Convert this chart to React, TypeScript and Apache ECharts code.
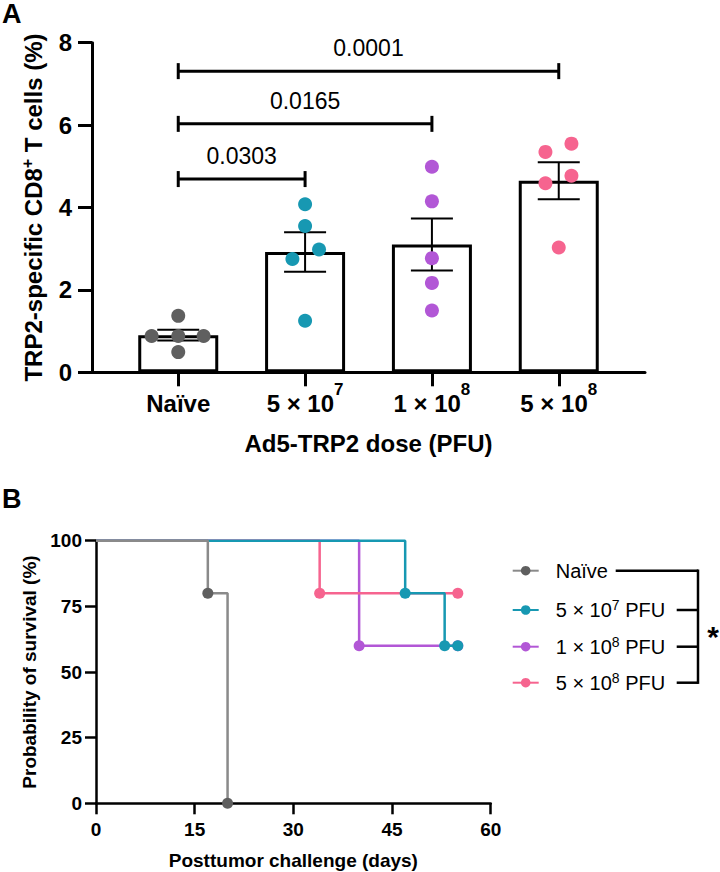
import React, { useEffect, useRef } from 'react';
import * as echarts from 'echarts';

const FONT = '"Liberation Sans", Arial, Helvetica, sans-serif';

// ---------- Panel A data ----------
const groupPositions = [0, 1, 2, 3];
const groupLabels = ['Naïve', '5 × 10{sup|7}', '1 × 10{sup|8}', '5 × 10{sup|8}'];
const meanValues = [0.9, 2.92, 3.1, 4.65];
const semValues = [0.13, 0.48, 0.63, 0.45];
const naiveValues = [1.37, 0.88, 0.88, 0.88, 0.49];
const dose5e7Values = [4.08, 3.55, 2.98, 2.75, 1.25];
const dose1e8Values = [4.99, 4.15, 2.77, 2.17, 1.5];
const dose5e8Values = [5.35, 5.55, 4.77, 4.59, 3.03];
const naiveJitter = [0, -0.21, 0, 0.2, 0];
const dose5e7Jitter = [0, 0, 0.11, -0.1, 0];
const dose1e8Jitter = [0, 0, 0, 0, 0];
const dose5e8Jitter = [-0.105, 0.1, 0.1, -0.105, 0];
const pComparisons = [[0, 1], [0, 2], [0, 3]];
const pValues = ['0.0303', '0.0165', '0.0001'];
const pBracketHeights = [4.69, 6.03, 7.31];

// ---------- Panel B data ----------
const survivalNames = ['Naïve', '5 × 10^7 PFU', '1 × 10^8 PFU', '5 × 10^8 PFU'];
const survivalLegendLabels = ['Naïve', '5 × 10{sup|7} PFU', '1 × 10{sup|8} PFU', '5 × 10{sup|8} PFU'];
const naiveSurvival = [[0, 100], [17, 80], [20, 0]];
const dose5e7Survival = [[0, 100], [47, 80], [53, 60], [55, 60]];
const dose1e8Survival = [[0, 100], [40, 60], [55, 60]];
const dose5e8Survival = [[0, 100], [34, 80], [55, 80]];

const GRAY_PT = '#5f5f5f';
const GRAY_LINE = '#8a8a8a';
const TEAL = '#1798b2';
const PURPLE = '#b257d6';
const PINK = '#f6648f';

const groupValues = [naiveValues, dose5e7Values, dose1e8Values, dose5e8Values];
const groupJitter = [naiveJitter, dose5e7Jitter, dose1e8Jitter, dose5e8Jitter];
const groupColors = [GRAY_PT, TEAL, PURPLE, PINK];

function scatterData(g: number) {
  return groupValues[g].map((v, i) => [groupPositions[g] + groupJitter[g][i], v]);
}

function survivalData(pts: number[][]) {
  return pts.map((p, i) => (i === 0 ? { value: p, symbol: 'none' } : { value: p }));
}

export default function App() {
  const ref = useRef<HTMLDivElement>(null);
  useEffect(() => {
    if (!ref.current) return;
    const chart = echarts.init(ref.current, null, { renderer: 'svg' });
    const boldText = { fontFamily: FONT, fontWeight: 'bold' as const, color: '#000' };

    const survivalSeriesDefs = [
      { name: survivalNames[2], data: dose1e8Survival, line: PURPLE, pt: PURPLE },
      { name: survivalNames[3], data: dose5e8Survival, line: PINK, pt: PINK },
      { name: survivalNames[1], data: dose5e7Survival, line: TEAL, pt: TEAL },
      { name: survivalNames[0], data: naiveSurvival, line: GRAY_LINE, pt: GRAY_PT },
    ];

    const legendCenters = [570.7, 610, 646.7, 682.7];

    const option: any = {
      animation: false,
      backgroundColor: '#fff',
      textStyle: { fontFamily: FONT },
      grid: [
        { left: 92, right: 75, top: 42.7, bottom: 499.7 },
        { left: 96, right: 229.3, top: 540.7, bottom: 68.7 },
      ],
      xAxis: [
        {
          type: 'value', gridIndex: 0, min: -0.68, max: 3.68,
          axisLine: { onZero: false, lineStyle: { color: '#000', width: 3 } },
          axisTick: { show: true, customValues: groupPositions, length: 14, lineStyle: { color: '#000', width: 3 } },
          axisLabel: {
            customValues: groupPositions,
            formatter: (v: number) => groupLabels[Math.round(v)] ?? '',
            ...boldText, fontSize: 24, lineHeight: 44, margin: 9,
            rich: { sup: { ...boldText, fontSize: 17, lineHeight: 16, verticalAlign: 'top' } },
          },
          splitLine: { show: false },
          name: 'Ad5-TRP2 dose (PFU)', nameLocation: 'middle', nameGap: 58.7,
          nameTextStyle: { ...boldText, fontSize: 24 },
        },
        {
          type: 'value', gridIndex: 1, min: 0, max: 60, interval: 15,
          axisLine: { onZero: false, lineStyle: { color: '#000', width: 2.5 } },
          axisTick: { length: 11, lineStyle: { color: '#000', width: 2.5 } },
          axisLabel: { ...boldText, fontSize: 19, margin: 17 },
          splitLine: { show: false },
          name: 'Posttumor challenge (days)', nameLocation: 'middle', nameGap: 48,
          nameTextStyle: { ...boldText, fontSize: 19 },
        },
      ],
      yAxis: [
        {
          type: 'value', gridIndex: 0, min: 0, max: 8, interval: 2,
          axisLine: { show: true, onZero: false, lineStyle: { color: '#000', width: 3 } },
          axisTick: { show: true, length: 14, lineStyle: { color: '#000', width: 3 } },
          axisLabel: { ...boldText, fontSize: 24, margin: 20 },
          splitLine: { show: false },
          name: 'TRP2-specific CD8{sup|+} T cells (%)', nameLocation: 'middle', nameGap: 38,
          nameTextStyle: {
            ...boldText, fontSize: 24, lineHeight: 28,
            rich: { sup: { ...boldText, fontSize: 16, lineHeight: 16, verticalAlign: 'top' } },
          },
        },
        {
          type: 'value', gridIndex: 1, min: 0, max: 100, interval: 25,
          axisLine: { show: true, onZero: false, lineStyle: { color: '#000', width: 2.5 } },
          axisTick: { show: true, length: 11, lineStyle: { color: '#000', width: 2.5 } },
          axisLabel: { ...boldText, fontSize: 19, margin: 14 },
          splitLine: { show: false },
          name: 'Probability of survival (%)', nameLocation: 'middle', nameGap: 54.5,
          nameTextStyle: { ...boldText, fontSize: 19 },
        },
      ],
      legend: survivalNames.map((n, i) => ({
        data: [n],
        left: 511.7,
        top: legendCenters[i] - 12,
        padding: 0,
        itemWidth: 26,
        itemHeight: 12,
        formatter: () => survivalLegendLabels[i],
        selectedMode: false,
        textStyle: {
          fontFamily: FONT, fontSize: 20, color: '#000', lineHeight: 24, padding: [0, 0, 0, 12],
          rich: { sup: { fontFamily: FONT, fontSize: 14, color: '#000', lineHeight: 14, verticalAlign: 'top' } },
        },
      })),
      series: [
        {
          type: 'bar', name: 'means', xAxisIndex: 0, yAxisIndex: 0,
          data: groupPositions.map((p, i) => [p, meanValues[i]]),
          barWidth: 80,
          itemStyle: { color: '#fff', borderColor: '#000', borderWidth: 3 },
          z: 2,
        },
        {
          type: 'custom', name: 'sem', xAxisIndex: 0, yAxisIndex: 0, z: 3,
          data: groupPositions.map((p, i) => [p, meanValues[i] - semValues[i], meanValues[i] + semValues[i]]),
          encode: { x: 0, y: [1, 2] },
          renderItem: (params: any, api: any) => {
            const x = api.value(0);
            const lo = api.coord([x, api.value(1)]);
            const hi = api.coord([x, api.value(2)]);
            const hw = 21;
            const st = { stroke: '#000', lineWidth: 2 };
            return {
              type: 'group',
              children: [
                { type: 'line', shape: { x1: hi[0], y1: hi[1], x2: lo[0], y2: lo[1] }, style: st },
                { type: 'line', shape: { x1: hi[0] - hw, y1: hi[1], x2: hi[0] + hw, y2: hi[1] }, style: st },
                { type: 'line', shape: { x1: lo[0] - hw, y1: lo[1], x2: lo[0] + hw, y2: lo[1] }, style: st },
              ],
            };
          },
        },
        ...groupPositions.map((g) => ({
          type: 'scatter', name: 'pts' + g, xAxisIndex: 0, yAxisIndex: 0, z: 4,
          data: scatterData(g),
          symbolSize: 14,
          itemStyle: { color: groupColors[g], opacity: 1 },
        })),
        {
          type: 'custom', name: 'brackets', xAxisIndex: 0, yAxisIndex: 0, z: 5,
          data: pComparisons.map((c, i) => [groupPositions[c[0]], groupPositions[c[1]], pBracketHeights[i]]),
          encode: { x: [0, 1], y: 2 },
          renderItem: (params: any, api: any) => {
            const a = api.coord([api.value(0), api.value(2)]);
            const b = api.coord([api.value(1), api.value(2)]);
            const st = { stroke: '#000', lineWidth: 3 };
            const th = 8;
            return {
              type: 'group',
              children: [
                { type: 'line', shape: { x1: a[0], y1: a[1], x2: b[0], y2: b[1] }, style: st },
                { type: 'line', shape: { x1: a[0], y1: a[1] - th, x2: a[0], y2: a[1] + th }, style: st },
                { type: 'line', shape: { x1: b[0], y1: b[1] - th, x2: b[0], y2: b[1] + th }, style: st },
                {
                  type: 'text', x: (a[0] + b[0]) / 2, y: a[1] - 23,
                  style: {
                    text: pValues[params.dataIndex], fontSize: 23, fontFamily: FONT, fill: '#000',
                    align: 'center', verticalAlign: 'middle', textAlign: 'center', textVerticalAlign: 'middle',
                  },
                },
              ],
            };
          },
        },
        ...survivalSeriesDefs.map((s, i) => ({
          type: 'line', name: s.name, xAxisIndex: 1, yAxisIndex: 1, z: 3 + i,
          step: 'end',
          data: survivalData(s.data),
          symbol: 'circle',
          symbolSize: 11,
          showSymbol: true,
          lineStyle: { color: s.line, width: 2.5 },
          itemStyle: { color: s.pt },
          clip: false,
        })),
      ],
      graphic: [
        { type: 'text', left: 2, top: 0, style: { text: 'A', fontSize: 27, fontWeight: 'bold', fontFamily: FONT, fill: '#000' } },
        { type: 'text', left: 2, top: 485, style: { text: 'B', fontSize: 27, fontWeight: 'bold', fontFamily: FONT, fill: '#000' } },
        { type: 'line', shape: { x1: 615.7, y1: 570.7, x2: 698, y2: 570.7 }, style: { stroke: '#000', lineWidth: 2.5 } },
        { type: 'line', shape: { x1: 676.7, y1: 610, x2: 698, y2: 610 }, style: { stroke: '#000', lineWidth: 2.5 } },
        { type: 'line', shape: { x1: 676.7, y1: 646.7, x2: 698, y2: 646.7 }, style: { stroke: '#000', lineWidth: 2.5 } },
        { type: 'line', shape: { x1: 676.7, y1: 682.7, x2: 698, y2: 682.7 }, style: { stroke: '#000', lineWidth: 2.5 } },
        { type: 'line', shape: { x1: 698, y1: 569.5, x2: 698, y2: 683.9 }, style: { stroke: '#000', lineWidth: 2.5 } },
        { type: 'text', x: 713, y: 636, style: { text: '*', fontSize: 30, fontWeight: 'bold', fontFamily: FONT, fill: '#000', align: 'center', verticalAlign: 'middle' } },
      ],
    };
    chart.setOption(option);
    return () => chart.dispose();
  }, []);
  return <div ref={ref} style={{ position: 'fixed', left: 0, top: 0, width: 720, height: 872, background: '#fff' }} />;
}
